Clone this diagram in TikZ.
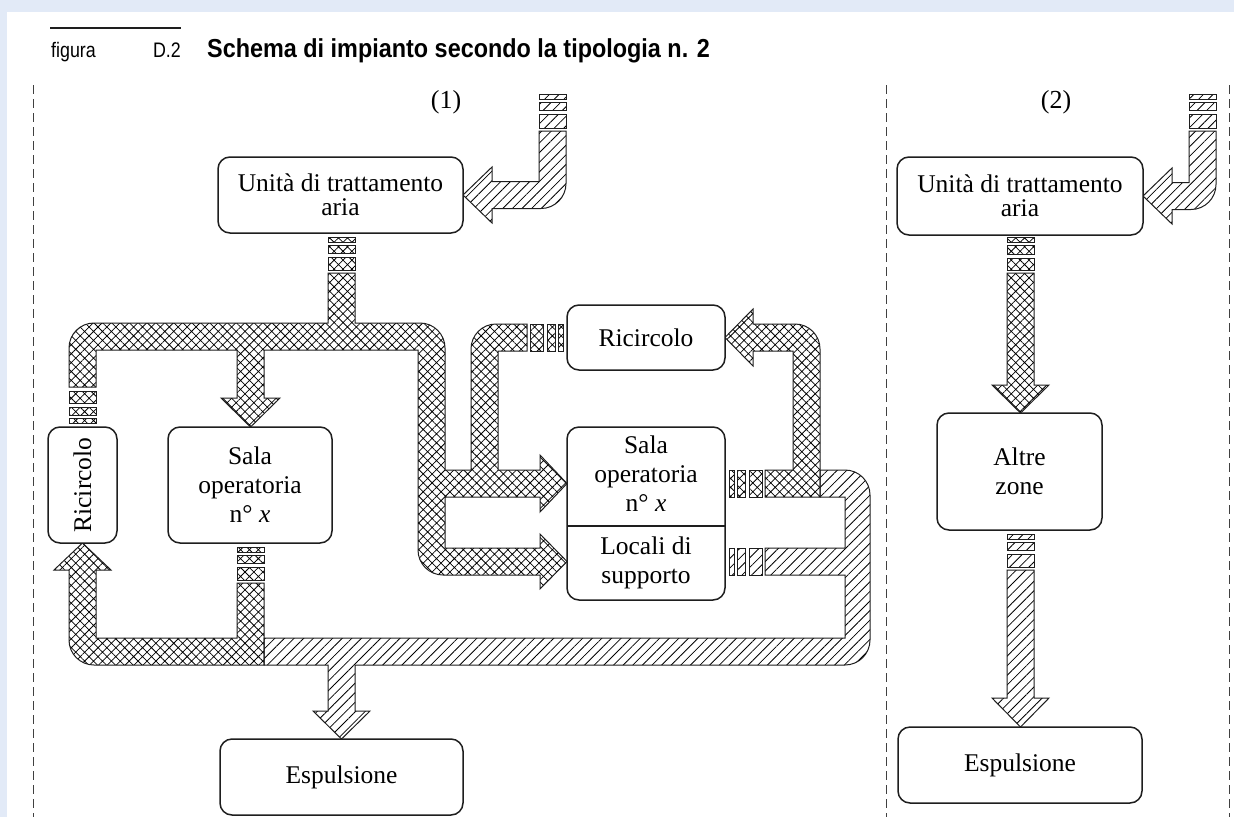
\documentclass[tikz,border=0pt]{standalone}
\usepackage{fontspec}
\setmainfont{Liberation Serif}
\newfontfamily\sansf{Liberation Sans}
\usetikzlibrary{patterns.meta}
\definecolor{bandblue}{RGB}{226,234,247}
\definecolor{ink}{RGB}{30,30,30}
\begin{document}
\begin{tikzpicture}[x=1pt,y=-1pt,
  pipe/.style={draw=ink, line width=1pt, line join=miter},
  xh/.style={pipe, pattern={Hatch[angle=45,distance=6.3pt,line width=0.75pt]}, pattern color=black},
  sh/.style={pipe, pattern={Lines[angle=45,distance=6.8pt,line width=0.8pt]}, pattern color=black},
  box/.style={draw=ink, line width=1.5pt, rounded corners=12pt, fill=white, align=center, inner sep=0pt, font=\fontsize{25.5}{29}\selectfont},
  lbl/.style={font=\fontsize{25.5}{29}\selectfont, align=center, inner sep=0pt},
  sep/.style={draw=ink!85, line width=0.8pt, dash pattern=on 9pt off 5pt}
]
\useasboundingbox (0,0) rectangle (1234,817);
\fill[white] (0,0) rectangle (1234,817);
\fill[bandblue] (0,0) rectangle (1234,12);
\fill[bandblue] (0,0) rectangle (7,817);

% title
\draw[line width=2.2pt, ink] (50,28) -- (181,28);
\node[anchor=base west, inner sep=0pt, font=\sansf\fontsize{21}{24}\selectfont] (fig) at (51,57) {\scalebox{0.85}[1]{figura}};
\node[anchor=base east, inner sep=0pt, font=\sansf\fontsize{21}{24}\selectfont] (dnum) at (181,57) {\scalebox{0.85}[1]{D.2}};
\node[anchor=base west, inner sep=0pt, font=\sansf\bfseries\fontsize{26}{30}\selectfont] (title) at (207,57) {\scalebox{0.9}[1]{Schema di impianto secondo la tipologia n. 2}};

% separators
\draw[sep] (33,85) -- (33,817);
\draw[sep] (886,85) -- (886,817);
\draw[sep] (1229,85) -- (1229,817);

\node[lbl, font=\fontsize{26}{30}\selectfont] (p1) at (446,102) {(1)};
\node[lbl, font=\fontsize{26}{30}\selectfont] (p2) at (1056,102) {(2)};

% ---------- panel 1 ducts ----------
% intake 1
\draw[sh] (539,94) rectangle (566,99);
\draw[sh] (539,102) rectangle (566,110);
\draw[sh] (539,114) rectangle (566,128);
\draw[sh] (539,131) -- (566,131) -- (566,183.5) .. controls (566,197.3) and (554.8,208.5) .. (541,208.5)
  -- (492,208.5) -- (492,223) -- (463,195) -- (492,167) -- (492,181.5) -- (539,181.5) -- cycle;

% supply network (region A)
\draw[xh] (328,237) rectangle (355,242);
\draw[xh] (328,245) rectangle (355,253);
\draw[xh] (328,257) rectangle (355,270);
\draw[xh] (328,273) -- (355,273) -- (355,323) -- (420,323) .. controls (433.8,323) and (445,334.2) .. (445,348)
  -- (445,470) -- (471,470) -- (471,349) .. controls (471,335.2) and (482.2,324) .. (496,324)
  -- (527,324) -- (527,351) -- (498,351) -- (498,470)
  -- (540,470) -- (540,455) -- (567,483.5) -- (540,512) -- (540,497) -- (445,497)
  -- (445,548) -- (540,548) -- (540,534) -- (567,561.5) -- (540,589) -- (540,575)
  -- (443,575) .. controls (429.2,575) and (418,563.8) .. (418,550)
  -- (418,350) -- (264,350) -- (264,398) -- (280,398) -- (250.5,427) -- (221,398) -- (237,398) -- (237,350)
  -- (96,350) -- (96,387) -- (69,387) -- (69,348) .. controls (69,334.2) and (80.2,323) .. (94,323)
  -- (328,323) -- cycle;
% R1 outlet bars
\draw[xh] (69,418) rectangle (96,423);
\draw[xh] (69,407) rectangle (96,415);
\draw[xh] (69,391) rectangle (96,403);
% R2 outlet bars
\draw[xh] (558,324) rectangle (563,351);
\draw[xh] (547,324) rectangle (555,351);
\draw[xh] (530,324) rectangle (543,351);

% recirculation bottom-left (region B)
\draw[xh] (237,547) rectangle (264,552);
\draw[xh] (237,555) rectangle (264,563);
\draw[xh] (237,567) rectangle (264,580);
\draw[xh] (237,583) -- (264,583) -- (264,665) -- (94,665) .. controls (80.2,665) and (69,653.8) .. (69,640)
  -- (69,570) -- (54,570) -- (82.5,543) -- (111,570) -- (96,570) -- (96,638) -- (237,638) -- cycle;

% exhaust (region C)
\draw[sh] (729,548) rectangle (734,575);
\draw[sh] (737,548) rectangle (745,575);
\draw[sh] (749,548) rectangle (762,575);
\draw[sh] (820,470) -- (845,470) .. controls (858.8,470) and (870,481.2) .. (870,495)
  -- (870,640) .. controls (870,653.8) and (858.8,665) .. (845,665)
  -- (355,665) -- (355,711) -- (370,711) -- (341.5,739) -- (313,711) -- (328,711) -- (328,665)
  -- (264,665) -- (264,638) -- (845,638) -- (845,575) -- (765,575) -- (765,548) -- (845,548)
  -- (845,497) -- (820,497) -- cycle;

% recirculation right (region D)
\draw[xh] (729,470) rectangle (734,497);
\draw[xh] (737,470) rectangle (745,497);
\draw[xh] (749,470) rectangle (762,497);
\draw[xh] (765,470) -- (793,470) -- (793,351) -- (753,351) -- (753,366) -- (725,337.5) -- (753,309) -- (753,324)
  -- (795,324) .. controls (808.8,324) and (820,335.2) .. (820,349) -- (820,497) -- (765,497) -- cycle;

% ---------- panel 2 ducts ----------
\draw[sh] (1189,94) rectangle (1216,99);
\draw[sh] (1189,102) rectangle (1216,110);
\draw[sh] (1189,114) rectangle (1216,128);
\draw[sh] (1189,131) -- (1216,131) -- (1216,184.5) .. controls (1216,198.3) and (1204.8,209.5) .. (1191,209.5)
  -- (1172,209.5) -- (1172,224) -- (1143,196) -- (1172,168) -- (1172,182.5) -- (1189,182.5) -- cycle;

\draw[xh] (1007,237) rectangle (1034,242);
\draw[xh] (1007,245) rectangle (1034,254);
\draw[xh] (1007,258) rectangle (1034,270);
\draw[xh] (1007,273) -- (1034,273) -- (1034,385) -- (1049,385) -- (1020.5,413) -- (992,385) -- (1007,385) -- cycle;

\draw[sh] (1007,534) rectangle (1034,539);
\draw[sh] (1007,542) rectangle (1034,550);
\draw[sh] (1007,554) rectangle (1034,567);
\draw[sh] (1007,570) -- (1034,570) -- (1034,698) -- (1049,698) -- (1020.5,727) -- (992,698) -- (1007,698) -- cycle;

% ---------- boxes ----------
\node[box, minimum width=245pt, minimum height=76pt, font=\fontsize{25.5}{24.5}\selectfont] (uta1) at (340.5,195) {Unità di trattamento\\aria};
\node[box, minimum width=246pt, minimum height=78pt, font=\fontsize{25.5}{24.5}\selectfont] (uta2) at (1020,196) {Unità di trattamento\\aria};
\node[box, rotate=90, minimum width=116pt, minimum height=69pt] (r1) at (82.5,485) {Ricircolo};
\node[box, minimum width=164pt, minimum height=116pt] (so1) at (250,485) {Sala\\operatoria\\n° \textit{x}};
\node[box, minimum width=158pt, minimum height=65pt] (r2) at (646,337.5) {Ricircolo};
\node[box, minimum width=158pt, minimum height=173pt] (so2) at (646,513.5) {};
\draw[draw=ink, line width=1.5pt] (567,526) -- (725,526);
\node[lbl] (so2a) at (646,474) {Sala\\operatoria\\n° \textit{x}};
\node[lbl] (so2b) at (646,563) {Locali di\\supporto};
\node[box, minimum width=165pt, minimum height=117pt] (altre) at (1019.5,471.5) {Altre\\zone};
\node[box, minimum width=243pt, minimum height=76pt] (esp1) at (341.5,777) {Espulsione};
\node[box, minimum width=244pt, minimum height=76pt] (esp2) at (1020,765) {Espulsione};
\end{tikzpicture}
\end{document}
